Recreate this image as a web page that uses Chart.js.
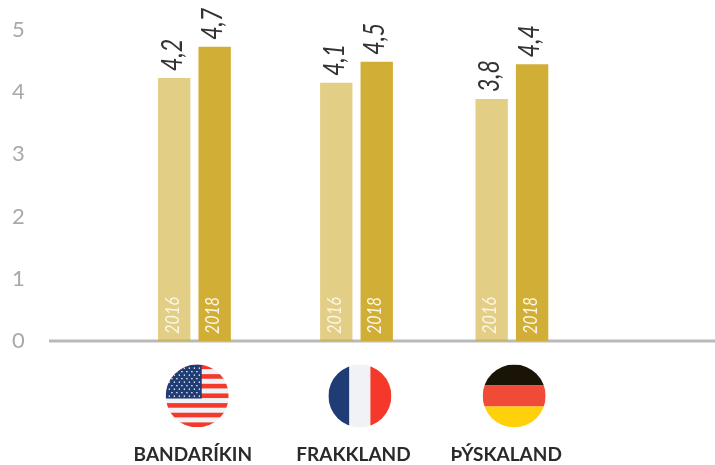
<!DOCTYPE html>
<html>
<head>
<meta charset="utf-8">
<script src="https://cdn.jsdelivr.net/npm/chart.js@4"></script>
<style>
  html, body { margin: 0; padding: 0; background: #fff; }
  #wrap { width: 715px; height: 465px; }
</style>
</head>
<body>
<div id="wrap"><canvas id="chart-area"></canvas></div>
<script>
var categories = ["BANDARÍKIN", "FRAKKLAND", "ÞÝSKALAND"];
var series2016 = [4.23, 4.15, 3.89];
var series2018 = [4.73, 4.49, 4.45];
var labels2016 = ["4,2", "4,1", "3,8"];
var labels2018 = ["4,7", "4,5", "4,4"];
var yTicks = [0, 1, 2, 3, 4, 5];
var flagIds = ["us", "fr", "de"];

// the groups in the picture are not quite evenly spaced
var groupNudge = [-0.4, 3, -0.3];
var flagNudge = [2.4, 6.4, 2];
var nameNudge = [-2, 0, -6];

function drawFlag(ctx, id, cx, cy, r) {
    ctx.save();
    ctx.beginPath();
    ctx.arc(cx, cy, r, 0, Math.PI * 2);
    ctx.clip();
    var x = cx - r, y = cy - r, d = r * 2;
    if (id === "fr") {
        ctx.fillStyle = "#1f3c75"; ctx.fillRect(x, y, 21, d);
        ctx.fillStyle = "#f0f2f5"; ctx.fillRect(x + 21, y, 21, d);
        ctx.fillStyle = "#f4392a"; ctx.fillRect(x + 42, y, 21, d);
    } else if (id === "de") {
        ctx.fillStyle = "#1a1407"; ctx.fillRect(x, y, d, 21);
        ctx.fillStyle = "#f04b37"; ctx.fillRect(x, y + 21, d, 21);
        ctx.fillStyle = "#ffd10a"; ctx.fillRect(x, y + 42, d, 21);
    } else {
        ctx.fillStyle = "#f0f2f5"; ctx.fillRect(x, y, d, d);
        ctx.fillStyle = "#f4392a";
        for (var i = 0; i < 7; i++) ctx.fillRect(x, y + i * 9.65, d, 4.6);
        ctx.fillStyle = "#1f3c75"; ctx.fillRect(x, y, 36, 34);
        ctx.fillStyle = "#fff";
        for (var row = 0; row < 9; row++) {
            for (var col = 0; col < 7; col++) {
                if (row % 2 && col === 6) continue;
                ctx.fillRect(x + 3 + col * 5 + (row % 2 ? 2.5 : 0), y + 3 + row * 3.5, 1.3, 1.3);
            }
        }
    }
    ctx.restore();
}

var nudgeBars = {
    id: "nudgeBars",
    afterDatasetsUpdate: function (chart) {
        [0, 1].forEach(function (d) {
            chart.getDatasetMeta(d).data.forEach(function (bar, i) {
                bar.x += groupNudge[i];
            });
        });
    }
};

// base line runs wider than the plot, and under the translucent bars
var baseLine = {
    id: "baseLine",
    beforeDatasetsDraw: function (chart) {
        var c = chart.ctx, y0 = chart.scales.y.getPixelForValue(0);
        c.save();
        c.fillStyle = "#b9b9bb";
        c.fillRect(49, y0 - 1.5, chart.width - 49, 3);
        c.restore();
    }
};

var barText = {
    id: "barText",
    afterDatasetsDraw: function (chart) {
        var c = chart.ctx;
        var sets = [
            { labels: labels2016, year: "2016" },
            { labels: labels2018, year: "2018" }
        ];
        var y0 = chart.scales.y.getPixelForValue(0);
        sets.forEach(function (s, d) {
            chart.getDatasetMeta(d).data.forEach(function (bar, i) {
                c.save();
                c.translate(bar.x - 2, bar.y - 7);
                c.rotate(-Math.PI / 2);
                c.font = "italic 29px Lato";
                c.fillStyle = "#333";
                c.textAlign = "left";
                c.textBaseline = "middle";
                c.fillText(s.labels[i], 0, 0, 32);
                c.restore();

                c.save();
                c.translate(bar.x - 1.5, y0 - 7);
                c.rotate(-Math.PI / 2);
                c.font = "italic 19px Lato";
                c.fillStyle = "#fbf6e6";
                c.textAlign = "left";
                c.textBaseline = "middle";
                c.fillText(s.year, 0, 0, 37);
                c.restore();
            });
        });
        flagIds.forEach(function (id, i) {
            var px = chart.scales.x.getPixelForValue(i);
            drawFlag(c, id, px + flagNudge[i], 396, 31.5);
            c.save();
            c.font = "bold 19px Lato";
            c.fillStyle = "#2a2a2c";
            c.textAlign = "center";
            c.textBaseline = "alphabetic";
            c.fillText(categories[i], px + nameNudge[i], 461);
            c.restore();
        });
    }
};

var config = {
    type: "bar",
    data: {
        labels: categories,
        datasets: [
            { label: "2016", data: series2016, backgroundColor: "rgba(209,174,54,0.6)", base: -0.02 },
            { label: "2018", data: series2018, backgroundColor: "#d1ae36", base: -0.03 }
        ]
    },
    options: {
        responsive: true,
        maintainAspectRatio: false,
        animation: false,
        layout: { padding: { left: 12, top: 30, right: 123.5, bottom: 124 } },
        plugins: { legend: { display: false }, tooltip: { enabled: false } },
        datasets: { bar: { barPercentage: 0.8, categoryPercentage: 0.51 } },
        scales: {
            x: {
                grid: { display: false, drawTicks: false },
                border: { display: false },
                ticks: { display: false }
            },
            y: {
                min: 0,
                max: 5,
                grid: { display: false, drawTicks: false },
                border: { display: false },
                afterFit: function (s) { s.width = 103.5; },
                afterBuildTicks: function (s) { s.ticks = yTicks.map(function (v) { return { value: v }; }); },
                ticks: {
                    padding: 0,
                    crossAlign: "far",
                    color: "#a9a9ab",
                    font: { family: "Lato", size: 22 }
                }
            }
        }
    },
    plugins: [nudgeBars, baseLine, barText]
};

window.onload = function () {
    var ctx = document.getElementById("chart-area").getContext("2d");
    window.myBar = new Chart(ctx, config);
};
</script>
</body>
</html>
